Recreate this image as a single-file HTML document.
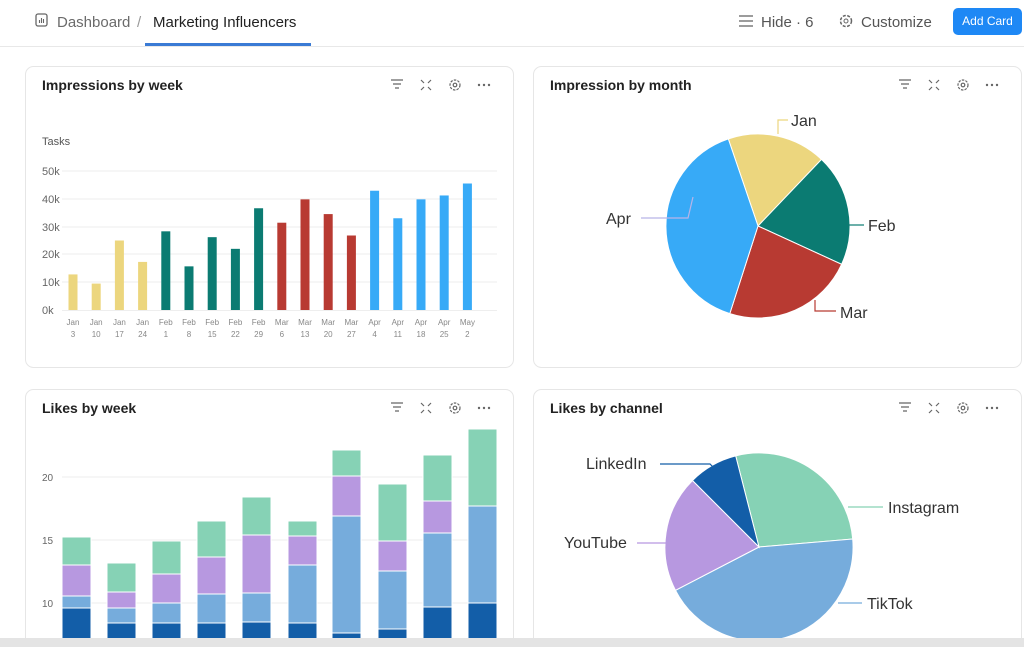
<!DOCTYPE html>
<html><head><meta charset="utf-8"><style>
body{margin:0;width:1024px;height:647px;overflow:hidden;background:#fff;font-family:"Liberation Sans",sans-serif}
svg{display:block}
</style></head><body>
<svg width="1024" height="647" viewBox="0 0 1024 647" font-family="Liberation Sans, sans-serif">
<rect width="1024" height="647" fill="#fff"/>
<!-- header -->
<line x1="0" y1="46.5" x2="1024" y2="46.5" stroke="#e8e8e8"/>
<rect x="36" y="14" width="11" height="12" rx="2" fill="none" stroke="#666" stroke-width="1.3"/>
<path d="M39.5 23v-3M41.5 23v-5M43.5 23v-4" stroke="#666" stroke-width="1.1"/>
<text x="57" y="27" font-size="15" fill="#6b6b6b">Dashboard</text>
<text x="137" y="27" font-size="15" fill="#999">/</text>
<text x="153" y="27" font-size="15" fill="#222">Marketing Influencers</text>
<rect x="145" y="43" width="166" height="3" fill="#3a7bd5"/>
<g stroke="#666" stroke-width="1.3"><line x1="739" y1="16" x2="753" y2="16"/><line x1="739" y1="21" x2="753" y2="21"/><line x1="739" y1="26" x2="753" y2="26"/></g>
<text x="761" y="27" font-size="15" fill="#555">Hide · 6</text>
<circle cx="846" cy="21" r="5.5" fill="none" stroke="#666" stroke-width="1.5" stroke-dasharray="3 1.5"/><circle cx="846" cy="21" r="2" fill="none" stroke="#666"/>
<text x="861" y="27" font-size="15" fill="#555">Customize</text>
<rect x="953" y="8" width="69" height="27" rx="5" fill="#1e88f5"/>
<text x="987.5" y="25" font-size="12" fill="#fff" text-anchor="middle">Add Card</text>
<!-- cards -->
<g fill="#fff" stroke="#e6e6e6">
<rect x="25.5" y="66.5" width="488" height="301" rx="8"/>
<rect x="533.5" y="66.5" width="488" height="301" rx="8"/>
<rect x="25.5" y="389.5" width="488" height="256" rx="8"/>
<rect x="533.5" y="389.5" width="488" height="256" rx="8"/>
</g>
<g font-size="14" font-weight="bold" fill="#222">
<text x="42" y="90">Impressions by week</text>
<text x="550" y="90">Impression by month</text>
<text x="42" y="413">Likes by week</text>
<text x="550" y="413">Likes by channel</text>
</g>
<g fill="none" stroke="#666" stroke-width="1.2">
<g id="ic"><path d="M391 80h12M393 84h8M395 88h4"/><path d="M421 80l3 3M431 80l-3 3M421 90l3-3M431 90l-3-3"/><circle cx="455" cy="85" r="5" stroke-dasharray="2.5 1.2"/><circle cx="455" cy="85" r="1.8"/></g>
<use href="#ic" x="508"/><use href="#ic" y="323"/><use href="#ic" x="508" y="323"/>
</g>
<g fill="#666"><g id="dots"><circle cx="479" cy="85" r="1.2"/><circle cx="484" cy="85" r="1.2"/><circle cx="489" cy="85" r="1.2"/></g>
<use href="#dots" x="508"/><use href="#dots" y="323"/><use href="#dots" x="508" y="323"/></g>
<!-- chart 1 -->
<text x="42" y="145" font-size="11" fill="#555">Tasks</text>
<g stroke="#eeeeee"><line x1="62" y1="171" x2="497" y2="171"/><line x1="62" y1="199" x2="497" y2="199"/><line x1="62" y1="227" x2="497" y2="227"/><line x1="62" y1="254" x2="497" y2="254"/><line x1="62" y1="282" x2="497" y2="282"/><line x1="62" y1="310.5" x2="497" y2="310.5"/></g>
<g font-size="11" fill="#666"><text x="42" y="175">50k</text><text x="42" y="203">40k</text><text x="42" y="231">30k</text><text x="42" y="258">20k</text><text x="42" y="286">10k</text><text x="42" y="314">0k</text></g>
<g id="bars1"></g>
<g id="lab1" font-size="8" fill="#888" text-anchor="middle"></g>
<!-- pie 1 -->
<path d="M758 226L728.3 138.9A92 92 0 0 1 821.5 159.4Z" fill="#ecd67e" stroke="#fff"/>
<path d="M758 226L821.5 159.4A92 92 0 0 1 841.6 264.3Z" fill="#0b7b72" stroke="#fff"/>
<path d="M758 226L841.6 264.3A92 92 0 0 1 729.8 313.6Z" fill="#b83a32" stroke="#fff"/>
<path d="M758 226L729.8 313.6A92 92 0 0 1 728.3 138.9Z" fill="#37aaf7" stroke="#fff"/>
<g fill="none" stroke-width="1.2">
<path d="M778 134V120H788" stroke="#ecd67e"/>
<path d="M849 225H864" stroke="#0b7b72"/>
<path d="M815 300V311H836" stroke="#b83a32"/>
<path d="M641 218H688L693 197" stroke="#b8b4e8"/>
</g>
<g font-size="16" fill="#333">
<text x="791" y="126">Jan</text><text x="868" y="231">Feb</text><text x="840" y="318">Mar</text><text x="606" y="224">Apr</text>
</g>
<!-- chart 3 -->
<g stroke="#eeeeee"><line x1="62" y1="477" x2="497" y2="477"/><line x1="62" y1="540" x2="497" y2="540"/><line x1="62" y1="603" x2="497" y2="603"/></g>
<g font-size="10" fill="#666"><text x="42" y="481">20</text><text x="42" y="544">15</text><text x="42" y="607">10</text></g>
<g id="bars2" stroke="#fff" stroke-width="1"></g>
<!-- pie 2 -->
<path d="M759 547L735.7 455.9A94 94 0 0 1 852.7 539Z" fill="#86d2b5" stroke="#fff"/>
<path d="M759 547L852.7 539A94 94 0 0 1 675.5 590.3Z" fill="#76acdc" stroke="#fff"/>
<path d="M759 547L675.5 590.3A94 94 0 0 1 692.5 480.5Z" fill="#b798e0" stroke="#fff"/>
<path d="M759 547L692.5 480.5A94 94 0 0 1 735.7 455.9Z" fill="#135ea8" stroke="#fff"/>
<g fill="none" stroke-width="1.2">
<path d="M660 464H710L713 467" stroke="#135ea8"/>
<path d="M848 507H883" stroke="#86d2b5"/>
<path d="M637 543H668" stroke="#b798e0"/>
<path d="M838 603H862" stroke="#76acdc"/>
</g>
<g font-size="16" fill="#333">
<text x="586" y="469">LinkedIn</text><text x="888" y="513">Instagram</text><text x="564" y="548">YouTube</text><text x="867" y="609">TikTok</text>
</g>
<rect x="0" y="638" width="1024" height="9" fill="#e4e4e4"/>
</svg>
<script>
var ns="http://www.w3.org/2000/svg";
function el(p,t,a,txt){var e=document.createElementNS(ns,t);for(var k in a)e.setAttribute(k,a[k]);if(txt)e.textContent=txt;document.getElementById(p).appendChild(e);}
var v=[12.8,9.5,25,17.3,28.3,15.7,26.2,22,36.6,31.4,39.8,34.5,26.8,42.9,33,39.8,41.2,45.5];
var c=["#ecd67e","#0b7b72","#b83a32","#37aaf7"];
var ci=[0,0,0,0,1,1,1,1,1,2,2,2,2,3,3,3,3,3];
var m=["Jan","Jan","Jan","Jan","Feb","Feb","Feb","Feb","Feb","Mar","Mar","Mar","Mar","Apr","Apr","Apr","Apr","May"];
var d=[3,10,17,24,1,8,15,22,29,6,13,20,27,4,11,18,25,2];
for(var i=0;i<18;i++){var x=73+i*23.2,h=v[i]*2.78;
el("bars1","rect",{x:x-4.5,y:310-h,width:9,height:h,fill:c[ci[i]]});
el("lab1","text",{x:x,y:325},m[i]);el("lab1","text",{x:x,y:337},String(d[i]));}
var xs=[62,107,152,197,242,288,332,378,423,468];
var seg=[[537,565,596,608],[563,592,608,623],[541,574,603,623],[521,557,594,623],[497,535,593,622],[521,536,565,623],[450,476,516,633],[484,541,571,629],[455,501,533,607],[429,506,506,603]];
var cc=["#86d2b5","#b798e0","#76acdc","#135ea8"];
for(var j=0;j<10;j++){var s=seg[j].concat([640]);
for(var k=0;k<4;k++){var h=s[k+1]-s[k];if(h>0)el("bars2","rect",{x:xs[j],y:s[k],width:29,height:h,fill:cc[k]});}}
</script>
</body></html>
